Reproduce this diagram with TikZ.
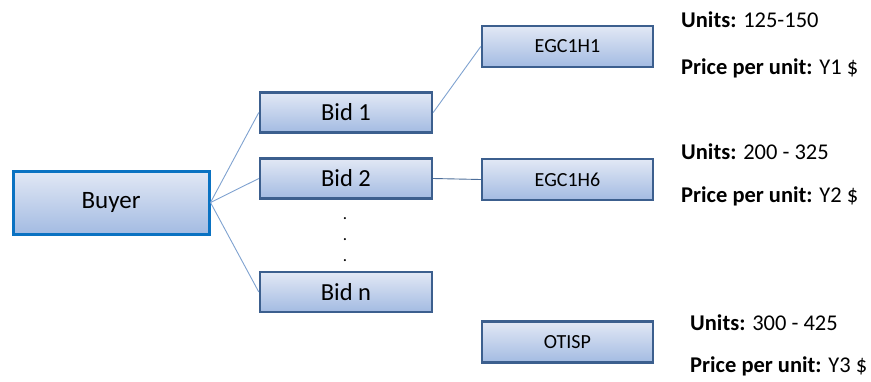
\documentclass[tikz,border=0pt]{standalone}
\usepackage{fontspec}
\setmainfont{Carlito}
\definecolor{boxtop}{HTML}{E2E8F5}
\definecolor{boxbot}{HTML}{A3BBE2}
\definecolor{boxedge}{HTML}{3C5F8E}
\definecolor{buyeredge}{HTML}{0A72C2}
\definecolor{linkcol}{HTML}{7FA2D0}
\definecolor{linkdark}{HTML}{4D6E9A}
\begin{document}
\begin{tikzpicture}[x=1pt,y=-1pt,
  boxbase/.style={rectangle, top color=boxtop, bottom color=boxbot, inner sep=0pt, anchor=center},
  bidbox/.style={boxbase, draw=boxedge, line width=2.4pt, minimum width=172pt, minimum height=40pt, font=\fontsize{24.5}{28}\selectfont},
  prodbox/.style={boxbase, draw=boxedge, line width=2.4pt, minimum width=171pt, minimum height=41pt, font=\fontsize{20}{24}\selectfont},
  buyerbox/.style={boxbase, draw=buyeredge, line width=3pt, minimum width=196pt, minimum height=63pt, font=\fontsize{25}{28}\selectfont},
  link/.style={draw=linkcol, line width=0.9pt},
  linkd/.style={draw=linkdark, line width=0.9pt},
  dotnode/.style={inner sep=0pt, font=\fontsize{17}{20}\selectfont},
  info/.style={anchor=west, inner sep=0pt, font=\fontsize{22.5}{26}\selectfont}
]
\useasboundingbox (0,0) rectangle (871,381);
\node[buyerbox] (buyer) at (111,202.5) {Buyer};
\node[bidbox] (bid1) at (346,112.5) {Bid 1};
\node[bidbox] (bid2) at (346,178.5) {Bid 2};
\node[bidbox] (bidn) at (346,292) {Bid n};
\node[prodbox] (egc1) at (567.5,46.5) {EGC1H1};
\node[prodbox] (egc6) at (567.5,179.5) {EGC1H6};
\node[prodbox] (otisp) at (567.5,342) {OTISP};
\node[dotnode] (d1) at (345,219) {.};
\node[dotnode] (d2) at (345,240) {.};
\node[dotnode] (d3) at (345,261) {.};
\draw[link] (buyer.east) -- (bid1.west);
\draw[link] (buyer.east) -- (bid2.west);
\draw[link] (buyer.east) -- (bidn.west);
\draw[link] (bid1.east) -- (egc1.west);
\draw[linkd] (bid2.east) -- (egc6.west);
\node[info] (u1) at (681,20) {\textbf{Units:} 125-150};
\node[info] (p1) at (681,68) {\textbf{Price per unit:} Y1 \$};
\node[info] (u2) at (681,152) {\textbf{Units:} 200 - 325};
\node[info] (p2) at (681,196) {\textbf{Price per unit:} Y2 \$};
\node[info] (u3) at (690,323) {\textbf{Units:} 300 - 425};
\node[info] (p3) at (690,366) {\textbf{Price per unit:} Y3 \$};
\end{tikzpicture}
\end{document}
